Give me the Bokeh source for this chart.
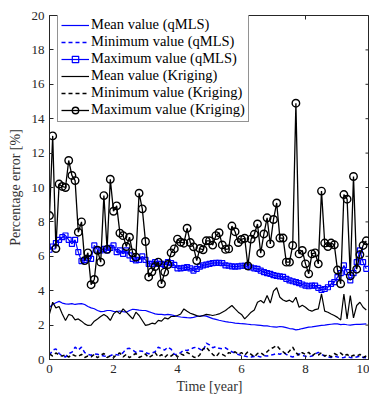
from bokeh.plotting import figure
from bokeh.models import Legend, LegendItem, Range1d, FixedTicker
from bokeh.embed import file_html
from bokeh.resources import INLINE

# Sampling times (years)
time_years = [round(0.1 * i, 1) for i in range(100)]

# Percentage error statistics, qMLS surrogate
qmls_mean = [3.04, 3.2, 3.3, 3.38, 3.28, 3.23, 3.22, 3.25, 3.2, 3.23,
             3.25, 3.2, 3.08, 3.0, 2.95, 2.85, 2.78, 2.8, 2.85, 2.85,
             2.8, 2.78, 2.82, 2.78, 2.75, 2.85, 2.92, 2.9, 2.87, 2.85,
             2.85, 2.78, 2.72, 2.65, 2.62, 2.62, 2.6, 2.62, 2.6, 2.55,
             2.5, 2.47, 2.45, 2.43, 2.42, 2.45, 2.5, 2.53, 2.55, 2.52,
             2.45, 2.38, 2.33, 2.28, 2.24, 2.2, 2.17, 2.15, 2.12, 2.1,
             2.08, 2.07, 2.05, 2.03, 2.02, 2.0, 1.98, 1.96, 1.95, 1.92,
             1.9, 1.88, 1.92, 1.9, 1.85, 1.8, 1.78, 1.72, 1.75, 1.8,
             1.84, 1.88, 1.9, 1.93, 1.96, 1.98, 2.0, 2.03, 2.05, 2.07,
             2.07, 2.03, 2.05, 2.02, 2.0, 2.03, 2.05, 2.04, 2.06, 2.07]
qmls_min = [0.25, 0.55, 0.62, 0.35, 0.2, 0.15, 0.35, 0.42, 0.72, 0.55,
            0.72, 0.4, 0.3, 0.25, 0.33, 0.3, 0.25, 0.2, 0.18, 0.22,
            0.3, 0.28, 0.25, 0.4, 0.62, 0.65, 0.55, 0.42, 0.5, 0.48,
            0.4, 0.33, 0.38, 0.45, 0.72, 0.62, 0.55, 0.72, 0.6, 0.3,
            0.29, 0.4, 0.56, 0.52, 0.6, 0.68, 0.72, 0.6, 0.5, 0.95,
            0.85, 0.68, 0.75, 0.65, 0.62, 0.68, 0.55, 0.45, 0.37, 0.29,
            0.23, 0.2, 0.15, 0.14, 0.18, 0.2, 0.15, 0.22, 0.2, 0.25,
            0.29, 0.35, 0.3, 0.42, 0.3, 0.2, 0.15, 0.2, 0.33, 0.25,
            0.18, 0.15, 0.2, 0.3, 0.42, 0.3, 0.2, 0.15, 0.12, 0.2,
            0.15, 0.1, 0.12, 0.18, 0.12, 0.1, 0.15, 0.2, 0.12, 0.1]
qmls_max = [6.38, 6.57, 6.77, 6.96, 7.11, 7.21, 6.96, 6.72, 6.96, 6.24,
            5.72, 5.79, 5.9, 5.85, 6.63, 6.38, 6.34, 6.43, 6.34, 6.49,
            6.63, 6.24, 6.34, 6.14, 6.34, 6.05, 5.85, 5.76, 5.79, 5.99,
            5.79, 5.56, 5.56, 5.66, 5.56, 5.56, 5.5, 5.66, 5.6, 5.5,
            5.3, 5.3, 5.33, 5.37, 5.3, 5.17, 5.27, 5.4, 5.47, 5.52,
            5.56, 5.6, 5.62, 5.62, 5.6, 5.47, 5.45, 5.41, 5.4, 5.41,
            5.45, 5.45, 5.4, 5.35, 5.3, 5.27, 5.17, 5.08, 5.02, 4.98,
            4.9, 4.86, 4.83, 4.8, 4.69, 4.6, 4.55, 4.5, 4.44, 4.36,
            4.3, 4.26, 4.3, 4.3, 4.17, 4.05, 4.1, 4.2, 4.4, 4.5,
            4.79, 5.02, 5.47, 5.08, 4.6, 5.02, 5.66, 6.34, 5.66, 5.27]

# Percentage error statistics, Kriging surrogate
krig_mean = [2.65, 3.33, 3.0, 3.08, 2.65, 2.27, 2.62, 2.56, 2.3, 2.36,
             2.23, 2.07, 1.98, 2.0, 2.23, 2.36, 2.5, 2.62, 2.5, 2.27,
             2.65, 2.81, 2.65, 2.94, 2.75, 2.56, 2.36, 2.75, 2.56, 2.27,
             1.98, 2.03, 2.11, 2.07, 2.27, 2.23, 2.42, 2.36, 2.5, 2.5,
             2.56, 2.65, 2.94, 2.8, 2.69, 2.62, 2.55, 2.5, 2.56, 2.62,
             2.6, 2.56, 2.6, 2.65, 2.75, 2.85, 3.0, 3.14, 2.94, 2.75,
             2.62, 2.36, 2.55, 2.75, 2.88, 3.33, 3.43, 3.28, 3.72, 3.28,
             3.97, 4.17, 3.62, 3.46, 3.38, 3.45, 3.33, 3.62, 3.04, 3.15,
             3.04, 2.88, 2.81, 2.9, 2.94, 3.81, 2.81, 2.75, 2.65, 2.56,
             2.45, 2.3, 3.81, 2.36, 3.72, 2.42, 3.14, 3.33, 3.04, 2.88]
krig_min = [0.33, 0.2, 0.38, 0.25, 0.2, 0.28, 0.14, 0.3, 0.22, 0.18,
            0.3, 0.12, 0.2, 0.15, 0.3, 0.1, 0.25, 0.35, 0.12, 0.2,
            0.1, 0.3, 0.38, 0.15, 0.3, 0.1, 0.25, 0.35, 0.12, 0.2,
            0.32, 0.1, 0.22, 0.4, 0.15, 0.28, 0.12, 0.3, 0.2, 0.35,
            0.15, 0.33, 0.25, 0.42, 0.3, 0.15, 0.1, 0.28, 0.62, 0.72,
            0.5, 0.3, 0.15, 0.38, 0.3, 0.2, 0.4, 0.35, 0.45, 0.3,
            0.4, 0.25, 0.45, 0.3, 0.15, 0.35, 0.4, 0.25, 0.45, 0.62,
            0.7, 0.81, 0.6, 0.45, 0.3, 0.5, 0.72, 0.4, 0.25, 0.4,
            0.3, 0.42, 0.2, 0.35, 0.25, 0.4, 0.2, 0.3, 0.15, 0.35,
            0.25, 0.38, 0.2, 0.3, 0.15, 0.25, 0.2, 0.3, 0.12, 0.2]
krig_max = [8.37, 13.0, 6.45, 10.2, 10.06, 10.0, 11.57, 10.7, 10.4, 7.4,
            8.0, 5.75, 6.2, 4.35, 4.65, 6.35, 5.66, 9.53, 6.4, 10.48,
            8.62, 8.93, 7.35, 7.2, 6.57, 7.11, 6.2, 5.95, 9.67, 8.76,
            6.86, 4.8, 5.1, 5.4, 5.66, 4.4, 5.08, 5.52, 6.2, 6.43,
            7.0, 6.82, 6.76, 7.63, 6.8, 6.55, 5.75, 6.45, 6.38, 6.9,
            6.9, 6.65, 7.2, 7.37, 6.66, 6.4, 6.43, 7.76, 7.43, 6.8,
            6.98, 7.05, 5.44, 7.0, 7.28, 7.88, 6.18, 7.3, 8.24, 6.72,
            8.14, 9.1, 7.06, 7.06, 5.66, 5.66, 6.63, 14.9, 6.14, 6.34,
            5.56, 4.98, 6.14, 6.2, 5.56, 9.79, 6.77, 6.57, 6.77, 6.67,
            5.2, 4.4, 9.59, 9.32, 4.86, 10.64, 5.25, 6.1, 6.63, 6.9]

series_labels = ["Mean value (qMLS)", "Minimum value (qMLS)", "Maximum value (qMLS)",
                 "Mean value (Kriging)", "Minimum value (Kriging)", "Maximum value (Kriging)"]
y_ticks = [0, 2, 4, 6, 8, 10, 12, 14, 16, 18, 20]
x_ticks = [0, 2, 4, 6, 8, 10]

X_MAX = 10
Y_MAX = 20
FRAME_H = 344  # frame height in px, used to convert tick length to data units

SERIF = "Liberation Serif"
AXIS_GRAY = "#262626"
BLUE = "#0000ff"
BLACK = "#000000"

p = figure(width=369, height=396, output_backend="svg", toolbar_location=None,
           x_range=Range1d(0, X_MAX), y_range=Range1d(0, Y_MAX),
           min_border_left=49, min_border_right=0, min_border_top=15, min_border_bottom=0,
           background_fill_color="white", border_fill_color="white")

p.xgrid.visible = False
p.ygrid.visible = False
p.outline_line_color = AXIS_GRAY
p.outline_line_width = 1

for ax in (p.xaxis[0], p.yaxis[0]):
    ax.major_label_text_font = SERIF
    ax.major_label_text_font_size = "13px"
    ax.major_label_text_color = AXIS_GRAY
    ax.axis_label_text_font = SERIF
    ax.axis_label_text_font_size = "14px"
    ax.axis_label_text_font_style = "normal"
    ax.axis_label_text_color = "#333333"
    ax.axis_line_color = AXIS_GRAY
    ax.major_tick_line_color = AXIS_GRAY
    ax.major_tick_in = 4
    ax.major_tick_out = 0
    ax.minor_tick_line_color = None
    ax.major_label_standoff = 5

p.xaxis[0].ticker = FixedTicker(ticks=x_ticks)
p.yaxis[0].ticker = FixedTicker(ticks=y_ticks)
p.xaxis[0].axis_label = "Time [year]"
p.yaxis[0].axis_label = "Percentage error [%]"
p.xaxis[0].axis_label_standoff = 3
p.yaxis[0].axis_label_standoff = 6

# Inward tick marks on the top and right edges of the box
tick_dy = 4 * Y_MAX / FRAME_H
tick_dx = 4 * X_MAX / 320
p.segment(x0=x_ticks, y0=[Y_MAX] * len(x_ticks), x1=x_ticks, y1=[Y_MAX - tick_dy] * len(x_ticks),
          line_color=AXIS_GRAY, line_width=1)
p.segment(x0=[X_MAX] * len(y_ticks), y0=y_ticks, x1=[X_MAX - tick_dx] * len(y_ticks), y1=y_ticks,
          line_color=AXIS_GRAY, line_width=1)

# qMLS series
r_qm = p.line(time_years, qmls_mean, line_color=BLUE, line_width=1.2)
r_qn = p.line(time_years, qmls_min, line_color=BLUE, line_width=1.5, line_dash="4 3")
r_qx = p.line(time_years, qmls_max, line_color=BLUE, line_width=1.2)
r_qxs = p.scatter(time_years, qmls_max, marker="square", size=5, line_color=BLUE,
                  line_width=1.2, fill_alpha=0)

# Kriging series
r_km = p.line(time_years, krig_mean, line_color=BLACK, line_width=1.2)
r_kn = p.line(time_years, krig_min, line_color=BLACK, line_width=1.5, line_dash="4 3")
r_kx = p.line(time_years, krig_max, line_color=BLACK, line_width=1.3)
r_kxs = p.scatter(time_years, krig_max, marker="circle", size=7.5, line_color=BLACK,
                  line_width=1.4, fill_alpha=0)

items = [
    LegendItem(label=series_labels[0], renderers=[r_qm]),
    LegendItem(label=series_labels[1], renderers=[r_qn]),
    LegendItem(label=series_labels[2], renderers=[r_qx, r_qxs]),
    LegendItem(label=series_labels[3], renderers=[r_km]),
    LegendItem(label=series_labels[4], renderers=[r_kn]),
    LegendItem(label=series_labels[5], renderers=[r_kx, r_kxs]),
]
legend = Legend(items=items, location=(8, 237), margin=0, padding=3, spacing=0,
                label_text_font=SERIF, label_text_font_size="14.5px", label_text_color=BLACK,
                label_height=16, label_standoff=2, glyph_width=28, glyph_height=16,
                border_line_color=AXIS_GRAY, border_line_width=1,
                background_fill_color="white", background_fill_alpha=1)
p.add_layout(legend)

open("out.html", "w").write(file_html(p, INLINE))
